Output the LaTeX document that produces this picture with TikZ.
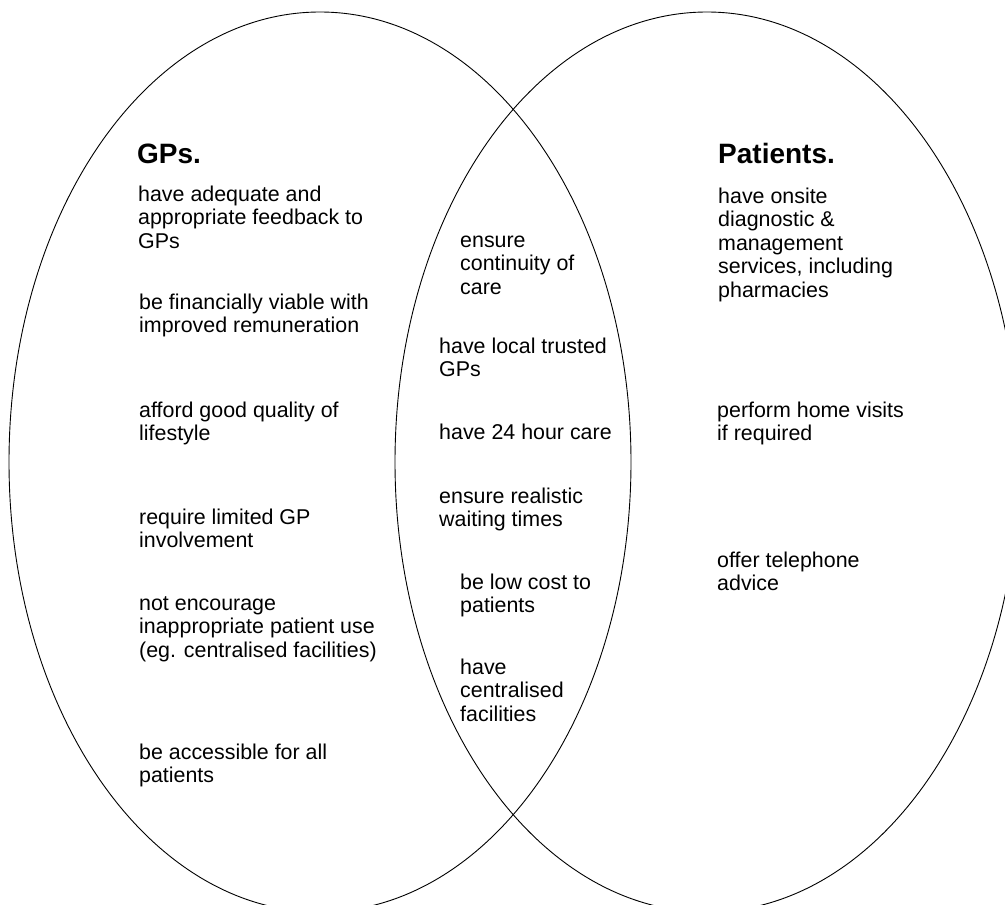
\documentclass[tikz,border=0pt]{standalone}
\usepackage{fontspec}
\setmainfont{Liberation Sans}
\usetikzlibrary{shapes.geometric}
\begin{document}
\begin{tikzpicture}[x=1pt,y=-1pt,
  setshape/.style={draw=black,line width=0.9pt,ellipse,inner sep=0pt,outer sep=0pt},
  head/.style={anchor=base west,inner sep=0pt,font=\fontsize{28}{32}\selectfont\bfseries},
  item/.style={anchor=base west,inner sep=0pt,align=left,font=\fontsize{21.4}{23.5}\selectfont}]
\clip (0,0) rectangle (1005,905);
\fill[white] (0,0) rectangle (1005,905);
\node[setshape,minimum width=622pt,minimum height=900pt] (gpset) at (320,462) {};
\node[setshape,minimum width=624pt,minimum height=900pt] (patset) at (707,462) {};
% headings
\node[head] (gps) at (137,163) {GPs.};
\node[head] (pat) at (718,163) {Patients.};
% GPs column (coordinates are last-line baselines)
\node[item] (g1) at (138,248) {have adequate and\\appropriate feedback to\\GPs};
\node[item] (g2) at (139,332.5) {be financially viable with\\improved remuneration};
\node[item] (g3) at (139,440.5) {afford good quality of\\lifestyle};
\node[item] (g4) at (139,547.5) {require limited GP\\involvement};
\node[item] (g5) at (139,657) {not encourage\\inappropriate patient use\\(eg. centralised facilities)};
\node[item] (g6) at (139,782.5) {be accessible for all\\patients};
% shared column
\node[item] (s1) at (460,294) {ensure\\continuity of\\care};
\node[item] (s2) at (439,376.5) {have local trusted\\GPs};
\node[item] (s3) at (439,439) {have 24 hour care};
\node[item] (s4) at (439,526.5) {ensure realistic\\waiting times};
\node[item] (s5) at (460,612.5) {be low cost to\\patients};
\node[item] (s6) at (460,721) {have\\centralised\\facilities};
% Patients column
\node[item] (p1) at (718,297) {have onsite\\diagnostic \&\\management\\services, including\\pharmacies};
\node[item] (p2) at (717,440.5) {perform home visits\\if required};
\node[item] (p3) at (717,590.5) {offer telephone\\advice};
\end{tikzpicture}
\end{document}
